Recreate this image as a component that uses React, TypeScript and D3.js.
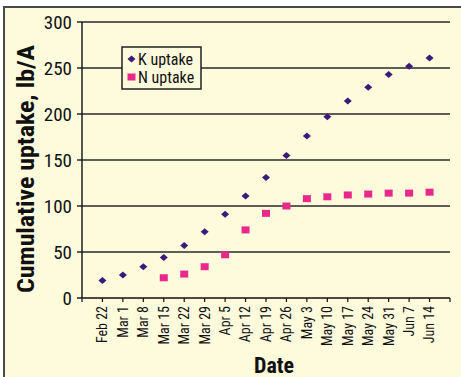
import React from "react";
import * as d3 from "d3";

const dates = ["Feb 22","Mar 1","Mar 8","Mar 15","Mar 22","Mar 29","Apr 5","Apr 12","Apr 19","Apr 26","May 3","May 10","May 17","May 24","May 31","Jun 7","Jun 14"];
const kUptake: (number | null)[] = [19, 25, 34, 44, 57, 72, 91, 111, 131, 155, 176, 197, 214, 229, 243, 252, 261];
const nUptake: (number | null)[] = [null, null, null, 22, 26, 34, 47, 74, 92, 100, 108, 110, 112, 113, 114, 114, 115];
const yTicks = [0, 50, 100, 150, 200, 250, 300];
const seriesNames = ["K uptake", "N uptake"];
const colors = ["#3b1a7a", "#e8288a"];

const W = 461, H = 377;
const left = 82, right = 450, top = 22, bottom = 298;
const narrow = "'Liberation Sans Narrow', 'Arial Narrow', 'Roboto Condensed', sans-serif";

export default function App() {
  const x = d3.scalePoint<string>().domain(dates).range([left, right]).padding(1);
  const y = d3.scaleLinear().domain([0, 300]).range([bottom, top]);

  const diamond = (cx: number, cy: number) => {
    const p = d3.path();
    p.moveTo(cx - 4, cy);
    p.lineTo(cx, cy - 3.5);
    p.lineTo(cx + 4, cy);
    p.lineTo(cx, cy + 3.5);
    p.closePath();
    return p.toString();
  };

  const xTickPos = [left, ...dates.map((d) => x(d) as number), right];

  return (
    <svg width={W} height={H} style={{ position: "fixed", left: 0, top: 0 }}>
      <rect x={0} y={0} width={W} height={H} fill="#ffffff" />
      <rect x={4} y={7} width={W + 10} height={H + 10} fill="#fefadc" stroke="#4a4a4a" strokeWidth={2} />
      {yTicks.map((t) => (
        <g key={t}>
          {t > 0 && <line x1={77} x2={right} y1={y(t)} y2={y(t)} stroke="#2a2a2a" strokeWidth={1.4} />}
          {t === 0 && <line x1={77} x2={left} y1={y(t)} y2={y(t)} stroke="#111" strokeWidth={1.4} />}
          <text x={72} y={y(t)} dy="0.36em" textAnchor="end" fontFamily={narrow} fontSize={19} fill="#111">{t}</text>
        </g>
      ))}
      <line x1={left} x2={left} y1={top} y2={bottom} stroke="#111" strokeWidth={1.4} />
      <line x1={left} x2={right} y1={bottom} y2={bottom} stroke="#111" strokeWidth={1.4} />
      {xTickPos.map((px, i) => (
        <line key={i} x1={px} x2={px} y1={bottom} y2={bottom + 4} stroke="#111" strokeWidth={1.2} />
      ))}
      {dates.map((d) => (
        <text key={d} transform={`translate(${x(d)},306) rotate(-90)`} textAnchor="end" dy="0.35em" fontFamily={narrow} fontSize={14} fill="#111">{d}</text>
      ))}
      {dates.map((d, i) => kUptake[i] != null && (
        <path key={"k" + d} d={diamond(x(d) as number, y(kUptake[i] as number))} fill={colors[0]} />
      ))}
      {dates.map((d, i) => nUptake[i] != null && (
        <rect key={"n" + d} x={(x(d) as number) - 4} y={y(nUptake[i] as number) - 3.5} width={8} height={7} fill={colors[1]} />
      ))}
      <g>
        <rect x={122} y={47} width={79} height={42} fill="#fefadc" stroke="#222" strokeWidth={1.5} />
        <path d={diamond(131.5, 59)} fill={colors[0]} />
        <rect x={127.5} y={73.5} width={8} height={7} fill={colors[1]} />
        <text x={138} y={59} dy="0.36em" fontFamily={narrow} fontSize={16} fill="#111">{seriesNames[0]}</text>
        <text x={138} y={77} dy="0.36em" fontFamily={narrow} fontSize={16} fill="#111">{seriesNames[1]}</text>
      </g>
      <text transform={`translate(26,169) rotate(-90)`} textAnchor="middle" dy="0.36em" fontFamily={narrow} fontWeight="bold" fontSize={23} textLength={248} lengthAdjust="spacingAndGlyphs" fill="#111">Cumulative uptake, lb/A</text>
      <text x={274} y={373} textAnchor="middle" fontFamily={narrow} fontWeight="bold" fontSize={22} fill="#111">Date</text>
    </svg>
  );
}
